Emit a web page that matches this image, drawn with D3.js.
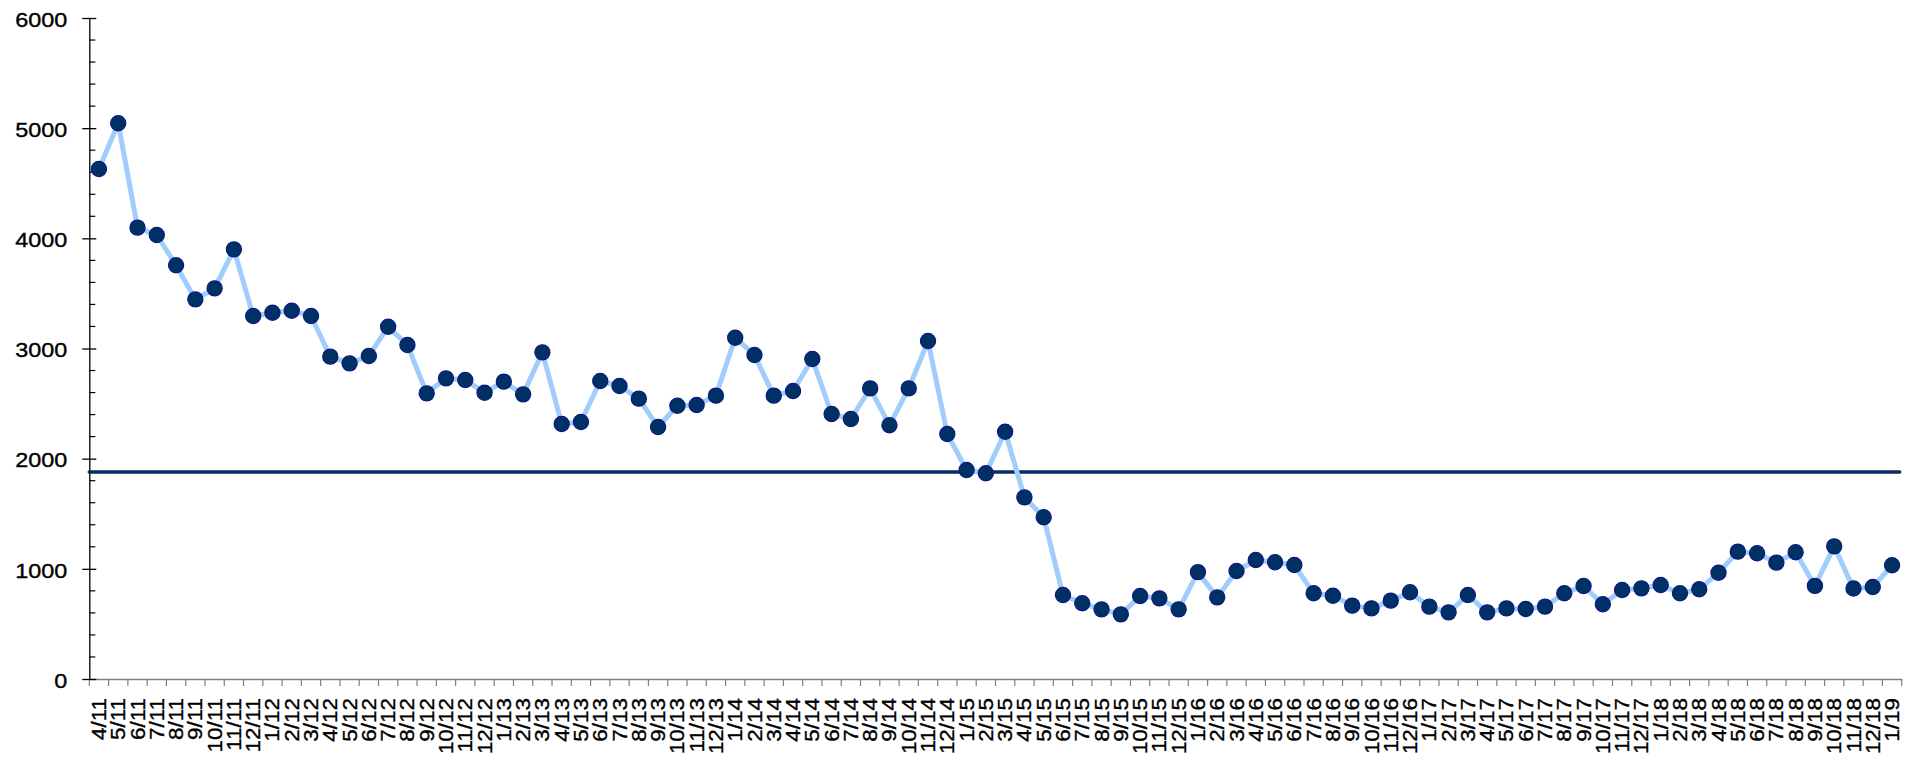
<!DOCTYPE html>
<html>
<head>
<meta charset="utf-8">
<script src="https://cdn.jsdelivr.net/npm/d3@7/dist/d3.min.js"></script>
<style>
  html, body { margin: 0; padding: 0; background: #fff; }
  svg { display: block; }
</style>
</head>
<body>
<svg id="chart" width="1920" height="771"></svg>
<script>
// Monthly labels (M/YY), April 2011 through January 2019
const months = [
  "4/11","5/11","6/11","7/11","8/11","9/11","10/11","11/11","12/11",
  "1/12","2/12","3/12","4/12","5/12","6/12","7/12","8/12","9/12","10/12","11/12","12/12",
  "1/13","2/13","3/13","4/13","5/13","6/13","7/13","8/13","9/13","10/13","11/13","12/13",
  "1/14","2/14","3/14","4/14","5/14","6/14","7/14","8/14","9/14","10/14","11/14","12/14",
  "1/15","2/15","3/15","4/15","5/15","6/15","7/15","8/15","9/15","10/15","11/15","12/15",
  "1/16","2/16","3/16","4/16","5/16","6/16","7/16","8/16","9/16","10/16","11/16","12/16",
  "1/17","2/17","3/17","4/17","5/17","6/17","7/17","8/17","9/17","10/17","11/17","12/17",
  "1/18","2/18","3/18","4/18","5/18","6/18","7/18","8/18","9/18","10/18","11/18","12/18",
  "1/19"
];

// Monthly values
const values = [
  4630, 5045, 4097, 4030, 3755, 3446, 3546, 3900, 3295,
  3325, 3343, 3295, 2926, 2865, 2932, 3198, 3032, 2593, 2729, 2714, 2599,
  2699, 2584, 2965, 2315, 2333, 2705, 2660, 2545, 2287, 2481, 2487, 2572,
  3098, 2941, 2572, 2614, 2905, 2405, 2360, 2638, 2303, 2638, 3068, 2224,
  1897, 1867, 2245, 1649, 1468, 762, 687, 632, 587, 753, 732, 632,
  970, 741, 980, 1080, 1060, 1035, 778, 756, 666, 641, 711, 787,
  657, 605, 762, 605, 641, 636, 657, 778, 844, 678, 808, 823,
  853, 778, 814, 965, 1156, 1141, 1056, 1150, 845, 1204, 822, 835,
  1032
];

// Reference level drawn across the plot
const averageLevel = [1880];

// Y-axis tick values
const yMajorTicks = [0, 1000, 2000, 3000, 4000, 5000, 6000];
const yMinorTicks = d3.range(0, 6001, 200).filter(v => v % 1000 !== 0);

const FONT = "'Liberation Sans', Arial, Helvetica, sans-serif";

const svg = d3.select("#chart");
const plotLeft = 89.3, plotRight = 1901.7, plotTop = 18, plotBottom = 679;

const x = d3.scaleBand().domain(months).range([plotLeft, plotRight]).paddingInner(0).paddingOuter(0);
const y = d3.scaleLinear().domain([0, 6000]).range([plotBottom, plotTop]);

const labelSize = 19.5;

// Widen a label along its reading direction
function stretch(sel, factor) {
  sel.each(function () {
    const w = this.getComputedTextLength();
    d3.select(this)
      .attr("textLength", w * factor)
      .attr("lengthAdjust", "spacingAndGlyphs");
  });
}

// X axis: baseline, boundary ticks and rotated labels
const xg = svg.append("g").attr("transform", `translate(0,${plotBottom})`);
xg.call(d3.axisBottom(x).tickSize(0).tickSizeOuter(0))
  .attr("font-family", FONT)
  .attr("font-size", labelSize)
  .call(g => g.select(".domain").attr("stroke", "#7f7f7f").attr("stroke-width", 1.5));
xg.selectAll(".tick text")
  .style("font-family", FONT)
  .style("font-size", labelSize + "px")
  .attr("fill", "#000")
  .attr("stroke", "#000")
  .attr("stroke-width", 0.35)
  .attr("text-anchor", "end")
  .attr("transform", "rotate(-90)")
  .attr("x", -19)
  .attr("y", 0)
  .attr("dy", "0.36em")
  .call(stretch, 1.15);

const boundaries = months.map(m => x(m)).concat([x(months[months.length - 1]) + x.bandwidth()]);
xg.selectAll("line.bt").data(boundaries).join("line")
  .attr("class", "bt")
  .attr("x1", d => d).attr("x2", d => d)
  .attr("y1", 0).attr("y2", 7)
  .attr("stroke", "#7f7f7f").attr("stroke-width", 1.2);

// Y axis: major ticks cross the axis, minor ticks point inward
const yg = svg.append("g").attr("transform", `translate(${plotLeft},0)`);
yg.call(d3.axisLeft(y).tickValues(yMajorTicks).tickFormat(d3.format("d"))
      .tickSize(7).tickSizeOuter(0).tickPadding(15))
  .attr("font-family", FONT)
  .attr("font-size", labelSize)
  .call(g => g.select(".domain").attr("stroke", "#000").attr("stroke-width", 1.3))
  .call(g => g.selectAll(".tick line").attr("stroke", "#000").attr("stroke-width", 1.3).attr("x2", -7).attr("x1", 7));
yg.selectAll(".tick text")
  .style("font-family", FONT)
  .style("font-size", labelSize + "px")
  .attr("fill", "#000")
  .attr("stroke", "#000")
  .attr("stroke-width", 0.35)
  .attr("text-anchor", "end")
  .attr("x", -22)
  .attr("dy", "0.42em")
  .call(stretch, 1.2);

yg.selectAll("line.minor").data(yMinorTicks).join("line")
  .attr("class", "minor")
  .attr("x1", 0).attr("x2", 6)
  .attr("y1", d => y(d)).attr("y2", d => y(d))
  .attr("stroke", "#000").attr("stroke-width", 1.2);

// Reference line
svg.selectAll("line.avg").data(averageLevel).join("line")
  .attr("class", "avg")
  .attr("x1", plotLeft).attr("x2", plotRight - 2)
  .attr("y1", d => y(d)).attr("y2", d => y(d))
  .attr("stroke", "#0b2a63").attr("stroke-width", 3.5)
  .attr("stroke-linecap", "round");

// Series line
const pts = months.map((m, i) => ({ m, v: values[i] }));
const line = d3.line().x(d => x(d.m) + x.bandwidth() / 2).y(d => y(d.v));
svg.append("path")
  .datum(pts)
  .attr("fill", "none")
  .attr("stroke", "#a0cdfb")
  .attr("stroke-width", 5)
  .attr("stroke-linejoin", "round")
  .attr("d", line);

// Markers
svg.selectAll("circle.pt").data(pts).join("circle")
  .attr("class", "pt")
  .attr("cx", d => x(d.m) + x.bandwidth() / 2)
  .attr("cy", d => y(d.v))
  .attr("r", 7.6)
  .attr("fill", "#003165")
  .attr("stroke", "#0a1a80")
  .attr("stroke-width", 1.2);
</script>
</body>
</html>
